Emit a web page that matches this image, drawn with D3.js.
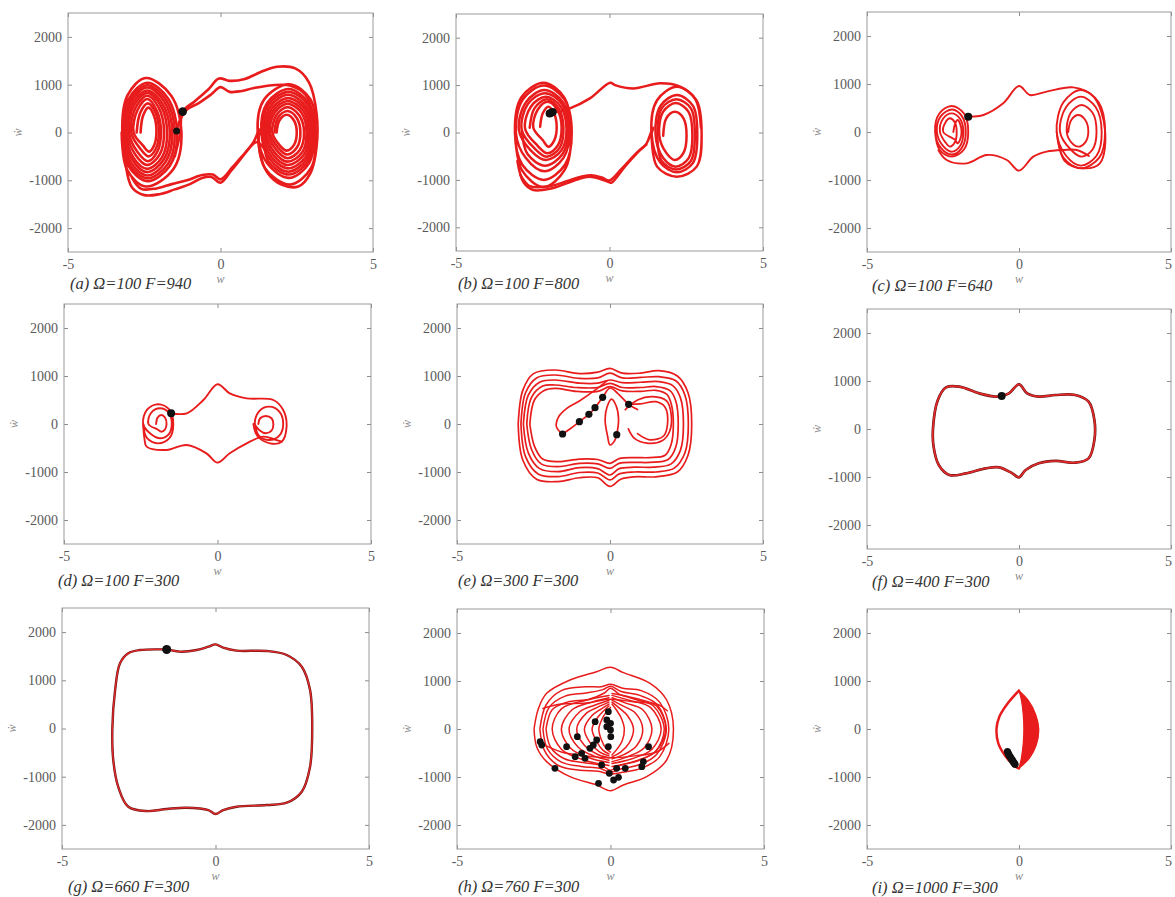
<!DOCTYPE html>
<html>
<head>
<meta charset="utf-8">
<script src="https://cdn.jsdelivr.net/npm/d3@7"></script>
<style>
  body { margin: 0; background: #fff; }
  svg { display: block; }
</style>
</head>
<body>
<svg id="fig" width="1175" height="897" font-family="'Liberation Serif', 'Times New Roman', 'DejaVu Serif', serif"></svg>
<script>
// ---------- axis ticks and captions ----------
const xTicks = [-5, 0, 5];
const yTicks = [-2000, -1000, 0, 1000, 2000];
const panelLetters = ["a", "b", "c", "d", "e", "f", "g", "h", "i"];
const omegaValues = [100, 100, 100, 100, 300, 400, 660, 760, 1000];
const forceValues = [940, 800, 640, 300, 300, 300, 300, 300, 300];

// ---------- phase trajectories [w, w'] ----------
// (a) Ω=100 F=940
const trajA = [
  [[-2.62,0],[-2.54,350],[-2.36,520],[-2.18,350],[-2.1,0],[-2.18,-275],[-2.34,-400],[-2.54,-275],
   [-2.85,0],[-2.72,470],[-2.4,700],[-2.1,470],[-1.95,0],[-2.08,-410],[-2.38,-600],[-2.72,-410],
   [-3.0,0],[-2.84,565],[-2.4,830],[-1.96,565],[-1.75,0],[-1.92,-520],[-2.4,-760],[-2.86,-520],
   [-3.1,0],[-2.93,640],[-2.4,940],[-1.84,640],[-1.58,0],[-1.8,-615],[-2.4,-900],[-2.95,-615],
   [-3.17,0],[-3.0,710],[-2.4,1040],[-1.72,710],[-1.42,0],[-1.66,-695],[-2.4,-1020],[-3.02,-695],
   [-3.22,0],[-3.05,775],[-2.45,1140],[-1.62,775],[-1.28,0],[-1.55,-770],[-2.45,-1130],[-3.07,-770],[-3.24,0]],
  [[-2.75,0],[-2.63,415],[-2.38,610],[-2.13,415],[-2.02,0],[-2.12,-340],[-2.36,-500],[-2.63,-340],
   [-2.93,0],[-2.78,525],[-2.4,770],[-2.03,525],[-1.85,0],[-2.0,-465],[-2.4,-680],[-2.79,-465],
   [-3.06,0],[-2.89,600],[-2.4,880],[-1.9,600],[-1.66,0],[-1.86,-565],[-2.4,-830],[-2.9,-565],
   [-3.14,0],[-2.97,675],[-2.4,990],[-1.78,675],[-1.5,0],[-1.72,-655],[-2.4,-960],[-2.99,-655],[-3.14,0]],
  [[1.84,0],[1.93,250],[2.17,370],[2.41,250],[2.5,0],[2.41,-260],[2.17,-380],[1.93,-260],
   [1.7,0],[1.83,360],[2.2,530],[2.58,360],[2.74,0],[2.6,-365],[2.2,-540],[1.83,-365],
   [1.56,0],[1.72,450],[2.2,660],[2.72,450],[2.88,0],[2.74,-460],[2.2,-680],[1.72,-460],
   [1.45,0],[1.62,535],[2.22,790],[2.8,535],[2.98,0],[2.83,-555],[2.22,-820],[1.62,-555],
   [1.34,0],[1.53,620],[2.24,910],[2.88,620],[3.06,0],[2.9,-645],[2.24,-950],[1.53,-645],
   [1.22,0],[1.43,690],[2.26,1010],[2.95,690],[3.12,0],[2.97,-740],[2.28,-1090],[1.45,-740],[1.22,0]],
  [[1.77,0],[1.88,305],[2.19,450],[2.5,305],[2.62,0],[2.51,-310],[2.19,-460],[1.88,-310],
   [1.62,0],[1.77,410],[2.2,600],[2.66,410],[2.82,0],[2.68,-415],[2.2,-610],[1.77,-415],
   [1.5,0],[1.67,490],[2.22,720],[2.77,490],[2.94,0],[2.79,-510],[2.22,-750],[1.67,-510],
   [1.4,0],[1.57,580],[2.24,850],[2.85,580],[3.02,0],[2.87,-600],[2.24,-880],[1.57,-600],[1.4,0]],
  [[-1.5,-500],[-1.32,0],[-1.24,437],[-0.85,650],[-0.4,900],[-0.05,1130],[0.3,1080],[0.8,1120],[1.3,1260],
   [1.85,1375],[2.45,1340],[2.9,1050],[3.15,400],[3.15,-300],[2.95,-850],[2.55,-1130],[2.0,-1090],
   [1.55,-850],[1.3,-450],[1.25,0]],
  [[-1.44,33],[-1.3,300],[-1.1,480],[-0.7,620],[-0.3,800],[0.0,950],[0.3,850],[0.6,860],[1.1,930],
   [1.7,990],[2.3,980],[2.8,780],[3.05,300]],
  [[-3.1,-700],[-2.9,-1150],[-2.5,-1310],[-2.0,-1290],[-1.5,-1190],[-1.0,-1080],[-0.6,-950],[-0.3,-930],
   [0.0,-1050],[0.35,-800],[0.75,-480],[1.1,-180],[1.28,60],[1.32,-20],[1.2,-60]],
  [[-2.9,-950],[-2.6,-1180],[-2.1,-1170],[-1.6,-1080],[-1.1,-1000],[-0.6,-890],[-0.25,-880],[0.0,-980],
   [0.4,-720],[0.8,-430],[1.2,-200],[1.5,-420]]
];
const dotsA = [[-1.24,437],[-1.44,33]];

// (b) Ω=100 F=800
const trajB = [
  [[-2.26,120],[-2.17,410],[-1.99,545],[-1.81,410],[-1.72,120],[-1.8,-165],[-1.99,-300],[-2.17,-165],
   [-2.48,100],[-2.34,480],[-2.02,650],[-1.7,480],[-1.56,100],[-1.69,-280],[-2.02,-440],[-2.34,-280],
   [-2.75,80],[-2.55,555],[-2.07,756],[-1.6,555],[-1.4,80],[-1.57,-380],[-2.07,-580],[-2.56,-380],
   [-2.95,50],[-2.72,640],[-2.12,896],[-1.52,640],[-1.3,50],[-1.5,-535],[-2.12,-820],[-2.73,-535],
   [-3.05,0],[-2.82,700],[-2.14,990],[-1.47,700],[-1.23,0],[-1.45,-680],[-2.14,-1000],[-2.84,-680],
   [-3.08,0],[-2.87,745],[-2.15,1050],[-1.48,745],[-1.25,0],[-1.46,-790],[-2.15,-1150],[-2.86,-790],[-3.08,0]],
  [[-2.6,100],[-2.44,515],[-2.05,700],[-1.66,515],[-1.5,100],[-1.63,-330],[-2.05,-510],[-2.45,-330],
   [-2.86,60],[-2.66,600],[-2.1,830],[-1.55,600],[-1.35,60],[-1.53,-455],[-2.1,-700],[-2.67,-455],[-2.86,60]],
  [[1.75,-70],[1.85,300],[2.13,439],[2.41,300],[2.51,-70],[2.41,-430],[2.13,-580],[1.85,-430],
   [1.62,-60],[1.75,440],[2.16,620],[2.57,440],[2.7,-60],[2.58,-540],[2.16,-720],[1.75,-540],
   [1.5,-40],[1.66,560],[2.2,790],[2.72,560],[2.86,-40],[2.72,-640],[2.2,-840],[1.66,-640],
   [1.37,-20],[1.55,680],[2.2,966],[2.83,680],[3.0,-20],[2.84,-720],[2.2,-932],[1.55,-720],[1.37,-20]],
  [[1.56,-50],[1.7,510],[2.18,700],[2.65,510],[2.78,-50],[2.65,-600],[2.18,-780],[1.7,-600],[1.56,-50]],
  [[-1.88,418],[-1.29,510],[-0.64,720],[0.02,1051],[0.18,1000],[0.78,930],[1.65,1037],[2.3,966],[2.8,700],[2.98,100]],
  [[-3.0,-600],[-2.8,-1050],[-2.48,-1213],[-1.9,-1180],[-1.4,-1072],[-0.9,-960],[-0.64,-932],[-0.3,-980],
   [0.0,-1050],[0.07,-1058],[0.5,-720],[0.95,-400],[1.21,-228],[1.35,0],[1.42,100],[1.37,-20],[1.3,-120]],
  [[-2.9,-900],[-2.6,-1130],[-2.0,-1140],[-1.4,-1030],[-0.9,-930],[-0.6,-900],[-0.25,-950],[0.0,-1010],
   [0.4,-760],[0.9,-420],[1.2,-260]]
];
const dotsB = [[-1.95,400],[-1.85,430],[-1.9,415]];

// (c) Ω=100 F=640
const trajC = [
  [[-2.16,0],[-2.1,175],[-2.02,250],[-1.94,175],[-1.89,0],[-1.94,-165],[-2.02,-236],[-2.1,-165],
   [-2.49,0],[-2.42,200],[-2.27,285],[-2.11,200],[-2.05,0],[-2.11,-215],[-2.27,-305],[-2.42,-215],
   [-2.6,0],[-2.5,275],[-2.22,389],[-1.94,275],[-1.83,0],[-1.94,-290],[-2.22,-410],[-2.5,-290],
   [-2.7,0],[-2.57,330],[-2.2,470],[-1.88,330],[-1.75,0],[-1.88,-330],[-2.2,-470],[-2.57,-330],
   [-2.76,0],[-2.62,385],[-2.22,542],[-1.81,385],[-1.67,0],[-1.81,-365],[-2.22,-514],[-2.62,-365],[-2.76,0]],
  [[-1.67,320],[-1.17,354],[-0.52,597],[0,958],[0.36,771],[0.91,840],[1.79,930],[2.45,736],[2.83,42],
   [2.66,-653],[2.12,-757],[1.5,-600],[1.24,0]],
  [[-2.65,-380],[-2.38,-583],[-1.72,-653],[-1.06,-479],[-0.4,-583],[0,-805],[0.47,-514],[0.91,-410],
   [1.46,-375],[1.9,-375],[2.3,-500]],
  [[1.62,0],[1.72,250],[1.95,354],[2.18,250],[2.28,0],[2.18,-215],[1.95,-305],[1.72,-215],
   [1.57,0],[1.7,400],[2.06,563],[2.42,400],[2.55,0],[2.42,-365],[2.06,-514],[1.7,-365],
   [1.35,0],[1.55,520],[2.03,736],[2.52,520],[2.72,0],[2.55,-495],[2.03,-700],[1.55,-495],
   [1.24,0],[1.46,620],[2.03,875],[2.62,620],[2.83,0],[2.64,-535],[2.03,-757],[1.46,-535],[1.24,0]]
];
const dotsC = [[-1.67,320]];

// (d) Ω=100 F=300
const trajD = [
  [[-2.0,0],[-1.95,135],[-1.83,188],[-1.71,135],[-1.66,0],[-1.71,-115],[-1.83,-160],[-1.95,-115],
   [-2.25,0],[-2.16,235],[-1.87,327],[-1.59,235],[-1.49,0],[-1.59,-215],[-1.87,-298],[-2.16,-215],
   [-2.42,0],[-2.3,295],[-1.93,410],[-1.56,295],[-1.44,0],[-1.56,-290],[-1.93,-403],[-2.3,-290],[-2.42,0]],
  [[-2.42,0],[-2.38,-300],[-2.31,-472],[-1.66,-541],[-1.0,-437],[-0.36,-611],[0,-805],[0.4,-611],
   [0.95,-403],[1.49,-264],[1.9,-330],[2.09,-368]],
  [[-1.51,223],[-1.0,223],[-0.46,500],[0,827],[0.4,639],[0.95,535],[1.82,500],[2.14,292],[2.25,-55],
   [2.09,-368],[1.71,-403],[1.3,-250],[1.17,0]],
  [[1.33,0],[1.39,120],[1.57,167],[1.76,120],[1.82,0],[1.76,-140],[1.57,-194],[1.39,-140],
   [1.22,0],[1.34,255],[1.68,361],[2.02,255],[2.14,0],[2.02,-235],[1.68,-333],[1.34,-235],[1.22,0]]
];
const dotsD = [[-1.51,223]];

// (e) Ω=300 F=300
const trajE = [
  [[-3.0,0],[-2.85,700],[-2.5,1050],[-1.8,1125],[-1.0,1050],[-0.4,1080],[0,1160],[0.4,1060],[1.0,1060],
   [1.6,1110],[2.2,1000],[2.55,650],[2.67,0],[2.55,-650],[2.2,-1000],[1.5,-1100],[0.8,-1100],[0.35,-1150],
   [0,-1300],[-0.4,-1120],[-1.0,-1120],[-1.7,-1200],[-2.4,-1150],[-2.85,-750],[-3.0,0]],
  [[-2.91,0],[-2.76,650],[-2.4,960],[-1.8,1021],[-1.0,950],[-0.4,960],[0,1060],[0.4,960],[1.0,970],
   [1.6,986],[2.15,900],[2.45,600],[2.56,0],[2.45,-600],[2.1,-920],[1.5,-1000],[0.8,-1000],[0.3,-1040],
   [0,-1166],[-0.4,-1020],[-1.0,-1010],[-1.7,-1097],[-2.35,-1040],[-2.76,-680],[-2.91,0]],
  [[-2.83,0],[-2.67,600],[-2.3,870],[-1.8,917],[-1.0,850],[-0.4,850],[0,917],[0.4,860],[1.0,870],
   [1.6,882],[2.05,800],[2.3,550],[2.4,0],[2.3,-550],[2.0,-830],[1.4,-900],[0.8,-900],[0.3,-930],
   [0,-1062],[-0.4,-930],[-1.0,-910],[-1.7,-993],[-2.3,-930],[-2.67,-600],[-2.83,0]],
  [[-2.72,0],[-2.57,550],[-2.2,790],[-1.8,813],[-1.1,760],[-0.4,760],[0,847],[0.4,760],[1.0,760],
   [1.5,780],[1.95,700],[2.15,480],[2.23,0],[2.15,-480],[1.9,-740],[1.3,-800],[0.8,-800],[0.3,-820],
   [0,-924],[-0.4,-830],[-1.0,-820],[-1.7,-889],[-2.25,-830],[-2.57,-520],[-2.72,0]],
  [[-2.62,0],[-2.47,500],[-2.15,700],[-1.8,743],[-1.1,680],[-0.4,680],[0,778],[0.4,690],[1.0,680],
   [1.5,700],[1.85,620],[2.0,420],[2.07,0],[2.0,-420],[1.8,-650],[1.3,-700],[0.8,-700],[0.3,-720],
   [0,-820],[-0.4,-740],[-1.0,-730],[-1.7,-785],[-2.2,-730],[-2.47,-460],[-2.62,0]],
  [[0.5,300],[0.9,500],[1.4,570],[1.85,480],[2.0,200],[1.95,-150],[1.7,-350],[1.2,-400],[0.8,-300],[0.6,-100]],
  [[0.61,410],[1.0,420],[1.5,465],[1.8,350],[1.88,0],[1.75,-250],[1.3,-330],[0.9,-200]],
  [[-1.55,-208],[-1.3,-100],[-1.0,49],[-0.69,201],[-0.49,340],[-0.24,556],[0,750],[0.25,640],[0.61,410],[0.9,300]],
  [[-1.55,-208],[-1.75,-60],[-1.68,150],[-1.4,330],[-1.0,480],[-0.5,700],[-0.1,900]],
  [[0.22,-222],[0.28,100],[0.2,380],[0.05,520],[-0.1,350],[-0.16,83],[-0.08,-250],[0,-437],[0.15,-350],[0.22,-222]]
];
const dotsE = [[-1.55,-208],[-1.0,49],[-0.69,201],[-0.49,340],[-0.24,556],[0.61,410],[0.22,-222]];

// (f) Ω=400 F=300 — single closed orbit
const loopF = [[-2.83,0],[-2.67,604],[-2.4,868],[-1.96,882],[-1.31,743],[-0.76,674],[-0.57,688],[-0.33,743],
  [0,930],[0.27,743],[0.65,674],[1.2,708],[1.85,708],[2.29,569],[2.48,187],[2.48,-229],[2.29,-611],
  [1.85,-701],[1.2,-666],[0.65,-715],[0.22,-854],[0,-1007],[-0.22,-924],[-0.65,-799],[-1.09,-819],
  [-1.74,-924],[-2.29,-958],[-2.64,-750],[-2.81,-368]];
const dotsF = [[-0.57,688]];

// (g) Ω=660 F=300 — single closed orbit
const loopG = [[-3.36,0],[-3.27,798],[-3.11,1352],[-2.84,1559],[-2.46,1628],[-1.81,1642],[-1.59,1638],
  [-1.16,1594],[-0.61,1628],[-0.23,1698],[0,1746],[0.25,1677],[0.69,1615],[1.67,1608],[2.32,1525],
  [2.81,1282],[3.08,798],[3.15,0],[3.08,-793],[2.81,-1311],[2.32,-1540],[1.67,-1588],[0.69,-1623],
  [0.25,-1692],[0,-1775],[-0.23,-1692],[-0.94,-1643],[-1.59,-1671],[-2.24,-1713],[-2.84,-1623],
  [-3.17,-1207],[-3.33,-654]];
const dotsG = [[-1.59,1638]];

// (h) Ω=760 F=300
const trajH = [
  [[-2.49,0],[-2.35,420],[-2.08,743],[-1.32,1021],[-0.45,1194],[0,1285],[0.42,1174],[1.29,951],[1.83,604],
   [2.05,0],[1.83,-646],[1.18,-993],[0.42,-1167],[0,-1285],[-0.45,-1167],[-1.32,-993],[-2.08,-680],[-2.4,-380],[-2.49,0]],
  [[-2.3,0],[-2.1,500],[-1.6,800],[-0.8,880],[-0.3,880],[0,930],[0.4,850],[1.0,800],[1.6,560],[1.9,0],
   [1.6,-580],[1.0,-820],[0.4,-900],[0,-940],[-0.4,-880],[-1.0,-860],[-1.7,-760],[-2.15,-450],[-2.3,0]],
  [[-2.2,0],[-2.0,450],[-1.5,680],[-0.8,750],[-0.25,820],[0,890],[0.35,780],[0.95,700],[1.5,520],[1.82,0],
   [1.5,-530],[0.95,-740],[0.35,-830],[0,-900],[-0.35,-820],[-0.95,-780],[-1.6,-690],[-2.05,-420],[-2.2,0]],
  [[-2.1,0],[-1.9,400],[-1.4,560],[-0.7,620],[-0.2,750],[0,850],[0.3,720],[0.9,600],[1.4,480],[1.75,0],
   [1.45,-480],[0.9,-650],[0.3,-760],[0,-860],[-0.3,-760],[-0.9,-700],[-1.5,-620],[-1.95,-380],[-2.1,0]],
  [[-0.05,700],[-0.8,600],[-1.6,420],[-1.9,0],[-1.6,-420],[-0.9,-640],[-0.05,-760]],
  [[-0.05,650],[-0.6,560],[-1.25,400],[-1.6,0],[-1.3,-400],[-0.7,-600],[-0.05,-700]],
  [[-0.05,600],[-0.5,500],[-1.0,360],[-1.35,0],[-1.05,-380],[-0.55,-560],[-0.05,-650]],
  [[-0.05,560],[-0.4,460],[-0.8,320],[-1.1,0],[-0.85,-340],[-0.45,-520],[-0.05,-600]],
  [[-0.05,520],[-0.3,420],[-0.6,280],[-0.85,0],[-0.65,-300],[-0.35,-480],[-0.05,-560]],
  [[-0.05,480],[-0.22,380],[-0.42,240],[-0.6,0],[-0.45,-260],[-0.25,-440],[-0.05,-520]],
  [[0,450],[-0.15,340],[-0.28,200],[-0.38,0],[-0.3,-220],[-0.15,-400],[0,-480]],
  [[0.05,740],[0.8,640],[1.5,480],[1.8,0],[1.5,-450],[0.9,-660],[0.05,-780]],
  [[0.05,700],[0.6,600],[1.3,450],[1.65,0],[1.35,-420],[0.7,-620],[0.05,-720]],
  [[0.05,650],[0.5,540],[1.05,400],[1.35,0],[1.1,-390],[0.55,-580],[0.05,-680]],
  [[0.05,600],[0.4,480],[0.8,340],[1.05,0],[0.85,-350],[0.45,-530],[0.05,-620]],
  [[0.05,560],[0.3,430],[0.55,280],[0.75,0],[0.6,-300],[0.33,-480],[0.05,-580]],
  [[0.05,520],[0.2,390],[0.35,230],[0.45,0],[0.38,-250],[0.2,-430],[0.05,-540]],
  [[-2.2,430],[-1.6,520],[-0.8,540],[0,620],[0.8,560],[1.5,520],[1.85,380]],
  [[-2.25,-300],[-1.6,-480],[-0.8,-560],[0,-600],[0.8,-560],[1.5,-480],[1.9,-300]]
];
const dotsH = [[-2.29,-264],[-2.24,-333],[-1.81,-819],[-1.43,-368],[-1.15,-576],[-1.08,-160],[-0.94,-507],
  [-0.83,-611],[-0.67,-403],[-0.56,-333],[-0.45,-229],[-0.5,153],[-0.39,-1132],[-0.29,-750],[-0.12,187],
  [-0.07,361],[0,118],[0,-21],[0.01,-160],[-0.07,-368],[-0.04,-924],[0.1,-1062],[0.26,-1007],[0.2,-819],
  [0.48,-819],[1.02,-785],[1.07,-680],[1.24,-368],[-0.12,49]];

// (i) Ω=1000 F=300
const arcI = [[0,800],[-0.35,550],[-0.65,250],[-0.74,0],[-0.68,-300],[-0.45,-560],[-0.1,-790],[0,-819]];
const bandOuterI = [[0,800],[0.3,600],[0.55,300],[0.65,0],[0.57,-330],[0.35,-600],[0,-819]];
const bandInnerI = [[0,800],[0.08,600],[0.14,300],[0.16,0],[0.14,-300],[0.08,-600],[0,-819]];
const dotsI = [[-0.38,-470],[-0.36,-500],[-0.34,-530],[-0.31,-560],[-0.28,-590],[-0.25,-620],
  [-0.22,-650],[-0.19,-680],[-0.16,-710],[-0.13,-735]];

// ---------- layout ----------
const frames = [ // [left, top, right, bottom] of each plot box
  [68, 13, 373, 252], [456, 14, 763, 251], [867, 12, 1171, 252],
  [64, 304, 371, 544], [457, 304, 763, 544], [867, 309, 1171, 549],
  [62, 608, 369, 849], [457, 609, 764, 849], [867, 609, 1171, 849]
];
const captionAt = [[70,289],[458,289],[872,291],[58,586],[458,586],[872,587],[68,892],[458,892],[872,893]];
const strokeW = [2.6, 2.5, 1.9, 1.9, 1.7, 2.1, 1.8, 1.5, 2.5];
const dotR = [4.3, 4, 4, 4, 3.6, 4, 4.5, 3.4, 3.6];
const RED = "#e81c1c";
const SERIF = "'Liberation Serif', 'Times New Roman', 'DejaVu Serif', serif";

const panelTraj = [trajA, trajB, trajC, trajD, trajE, [], [], trajH, [arcI]];
const panelDots = [dotsA, dotsB, dotsC, dotsD, dotsE, dotsF, dotsG, dotsH, dotsI];

const svg = d3.select("#fig");

panelLetters.forEach((letter, i) => {
  const [L, T, R, B] = frames[i];
  const x = d3.scaleLinear().domain([-5, 5]).range([L, R]);
  const y = d3.scaleLinear().domain([-2500, 2500]).range([B, T]);
  const g = svg.append("g").attr("class", "panel-" + letter);

  // axes with inward ticks on all four sides
  const fmt = d => String(d);
  const axes = [
    [d3.axisBottom(x).tickValues(xTicks).tickFormat(fmt), `translate(0,${B})`],
    [d3.axisTop(x).tickValues(xTicks).tickFormat(""), `translate(0,${T})`],
    [d3.axisLeft(y).tickValues(yTicks).tickFormat(fmt), `translate(${L},0)`],
    [d3.axisRight(y).tickValues(yTicks).tickFormat(""), `translate(${R},0)`]
  ];
  axes.forEach(([ax, tr], k) => {
    ax.tickSizeInner(-4).tickSizeOuter(0).tickPadding(k === 0 ? 7 : 6);
    const ga = g.append("g").attr("transform", tr).call(ax)
      .attr("font-family", SERIF).attr("font-size", 14);
    ga.select(".domain").remove();
    ga.selectAll(".tick line").attr("stroke", "#8c8c8c");
    ga.selectAll(".tick text").attr("fill", "#5a5a5a");
  });
  // keep the right-hand "5" of the last column inside the page
  if (R > 1160) {
    g.selectAll(".tick text").filter(d => d === 5).attr("dx", -3);
  }
  g.append("rect")
    .attr("x", L).attr("y", T).attr("width", R - L).attr("height", B - T)
    .attr("fill", "none").attr("stroke", "#9a9a9a").attr("stroke-width", 1);

  const open = d3.line().x(d => x(d[0])).y(d => y(d[1])).curve(d3.curveCatmullRom.alpha(0.5));
  const closed = d3.line().x(d => x(d[0])).y(d => y(d[1])).curve(d3.curveCatmullRomClosed.alpha(0.5));

  // trajectories
  if (letter === "f" || letter === "g") {
    const loop = letter === "f" ? loopF : loopG;
    g.append("path").attr("d", closed(loop)).attr("fill", "none")
      .attr("stroke", "#6a1414").attr("stroke-width", strokeW[i] + 0.6);
    g.append("path").attr("d", closed(loop)).attr("fill", "none")
      .attr("stroke", "#e42a2a").attr("stroke-width", strokeW[i] - 0.5);
  }
  if (letter === "i") {
    const band = bandOuterI.concat(bandInnerI.slice().reverse());
    g.append("path").attr("d", open(band) + "Z")
      .attr("fill", RED).attr("stroke", RED).attr("stroke-width", 1.2);
  }
  g.selectAll("path.traj").data(panelTraj[i]).join("path")
    .attr("class", "traj")
    .attr("d", d => open(d))
    .attr("fill", "none")
    .attr("stroke", RED)
    .attr("stroke-width", strokeW[i])
    .attr("stroke-linejoin", "round")
    .attr("stroke-linecap", "round");

  // Poincaré points
  g.selectAll("circle.pt").data(panelDots[i]).join("circle")
    .attr("class", "pt")
    .attr("cx", d => x(d[0])).attr("cy", d => y(d[1]))
    .attr("r", (d, j) => (letter === "a" && j === 1) ? 3.5 : dotR[i])
    .attr("fill", "#111");

  // axis titles
  g.append("text")
    .attr("x", (L + R) / 2).attr("y", B + 31)
    .attr("text-anchor", "middle")
    .attr("fill", "#8a8a8a").attr("font-style", "italic").attr("font-size", 12)
    .text("w");
  g.append("text")
    .attr("transform", `translate(${L - 46},${(T + B) / 2}) rotate(-90)`)
    .attr("text-anchor", "middle")
    .attr("fill", "#8a8a8a").attr("font-style", "italic").attr("font-size", 12)
    .text("ẇ");

  // caption
  g.append("text")
    .attr("x", captionAt[i][0]).attr("y", captionAt[i][1])
    .attr("fill", "#333").attr("font-style", "italic").attr("font-size", 16.5)
    .text(`(${letter}) Ω=${omegaValues[i]} F=${forceValues[i]}`);
});
</script>
</body>
</html>
